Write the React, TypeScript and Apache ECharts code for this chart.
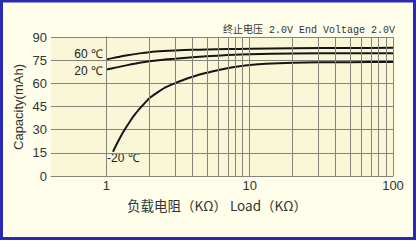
import React, { useEffect, useRef } from "react";
import * as echarts from "echarts";

const yTicks = [0, 15, 30, 45, 60, 75, 90];
const xLabelLoads = [1, 10, 100];
const gridLoads = [1, 2, 3, 4, 5, 6, 7, 8, 9, 10, 20, 30, 40, 50, 60, 70, 80, 90, 100];

const loads60 = [1, 1.2, 1.4, 1.7, 2, 2.5, 3, 4, 5, 7, 10, 20, 50, 100];
const cap60 = [75.5, 77.0, 78.2, 79.4, 80.2, 80.9, 81.3, 81.7, 81.9, 82.2, 82.4, 82.7, 82.9, 83];

const loads20 = [1, 1.2, 1.4, 1.7, 2, 2.5, 3, 4, 5, 7, 10, 20, 50, 100];
const cap20 = [69, 70.5, 71.8, 73.3, 74.3, 75.3, 75.9, 76.9, 77.5, 78.3, 78.9, 79.3, 79.5, 79.5];

const loadsM20 = [1.11, 1.2, 1.3, 1.45, 1.6, 1.8, 2, 2.3, 2.6, 3, 3.5, 4, 5, 6, 7, 8.5, 10, 13, 20, 30, 50, 100];
const capM20 = [15.7, 22, 28, 35, 40.5, 46, 50.5, 54.5, 57.5, 60, 62.5, 64.3, 66.8, 68.5, 69.8, 71, 71.8, 72.6, 73.3, 73.6, 73.7, 73.8];

const toPts = (xs: number[], ys: number[]) => xs.map((x, i) => [Math.log10(x), ys[i]]);

export default function App() {
  const ref = useRef<HTMLDivElement>(null);
  useEffect(() => {
    document.body.style.margin = "0";
    const chart = echarts.init(ref.current!, null, { renderer: "svg" });
    const gridColor = "#86847a";
    const lineStyle = { color: "#151515", width: 2 };
    const curve = (name: string, xs: number[], ys: number[]) => ({
      type: "line",
      name,
      data: toPts(xs, ys),
      smooth: 0.25,
      showSymbol: false,
      lineStyle,
    });
    chart.setOption({
      animation: false,
      backgroundColor: "#fefeea",
      grid: {
        left: 51,
        right: 23,
        top: 37,
        bottom: 65,
        show: true,
        backgroundColor: "#faf7d8",
        borderWidth: 0,
      },
      xAxis: {
        type: "value",
        min: Math.log10(0.41),
        max: 2,
        axisLine: { show: true, lineStyle: { color: gridColor, width: 1 } },
        axisTick: { show: false },
        splitLine: { show: false },
        axisLabel: {
          customValues: xLabelLoads.map((v) => Math.log10(v)),
          formatter: (v: number) => String(Math.round(Math.pow(10, v))),
          color: "#333",
          fontSize: 13,
          fontFamily: "Liberation Sans",
          margin: 3,
        },
      },
      yAxis: {
        type: "value",
        min: 0,
        max: 90,
        interval: 15,
        axisLine: { show: true, lineStyle: { color: gridColor, width: 1 } },
        axisTick: { show: false },
        splitLine: { show: true, lineStyle: { color: gridColor, width: 1 } },
        axisLabel: {
          color: "#333",
          fontSize: 13,
          fontFamily: "Liberation Sans",
          margin: 4,
          customValues: yTicks,
        },
      },
      series: [
        {
          type: "line",
          data: [],
          silent: true,
          markLine: {
            silent: true,
            symbol: "none",
            label: { show: false },
            lineStyle: { color: gridColor, width: 1, type: "solid" },
            data: gridLoads.map((v) => ({ xAxis: Math.log10(v) })),
          },
        },
        curve("60", loads60, cap60),
        curve("20", loads20, cap20),
        curve("-20", loadsM20, capM20),
      ],
      graphic: [
        {
          type: "text",
          x: 103,
          y: 54,
          style: { text: "60 ℃", fill: "#222", font: "12px 'Liberation Sans'", align: "right", verticalAlign: "middle" },
        },
        {
          type: "text",
          x: 103,
          y: 71,
          style: { text: "20 ℃", fill: "#222", font: "12px 'Liberation Sans'", align: "right", verticalAlign: "middle" },
        },
        {
          type: "text",
          x: 107,
          y: 158,
          style: { text: "-20 ℃", fill: "#222", font: "12px 'Liberation Sans'", align: "left", verticalAlign: "middle" },
        },
        {
          type: "text",
          x: 395,
          y: 30,
          style: {
            text: "终止电压 2.0V End Voltage 2.0V",
            fill: "#333",
            font: "10px 'Liberation Mono', 'Noto Sans CJK SC'",
            align: "right",
            verticalAlign: "middle",
          },
        },
        {
          type: "text",
          x: 217,
          y: 205,
          style: {
            text: "负载电阻（KΩ） Load（KΩ）",
            fill: "#333",
            font: "13.5px 'Noto Sans CJK SC'",
            align: "center",
            verticalAlign: "middle",
          },
        },
        {
          type: "text",
          x: 18,
          y: 107,
          rotation: Math.PI / 2,
          style: {
            text: "Capacity(mAh)",
            fill: "#333",
            font: "13px 'Liberation Sans'",
            align: "center",
            verticalAlign: "middle",
          },
        },
        {
          type: "rect",
          shape: { x: 1.5, y: 1, width: 413, height: 237.5 },
          style: { fill: "none", stroke: "#2a2ab4", lineWidth: 3 },
          silent: true,
        },
      ],
    });
    return () => chart.dispose();
  }, []);
  return <div ref={ref} style={{ width: 416, height: 241 }} />;
}
